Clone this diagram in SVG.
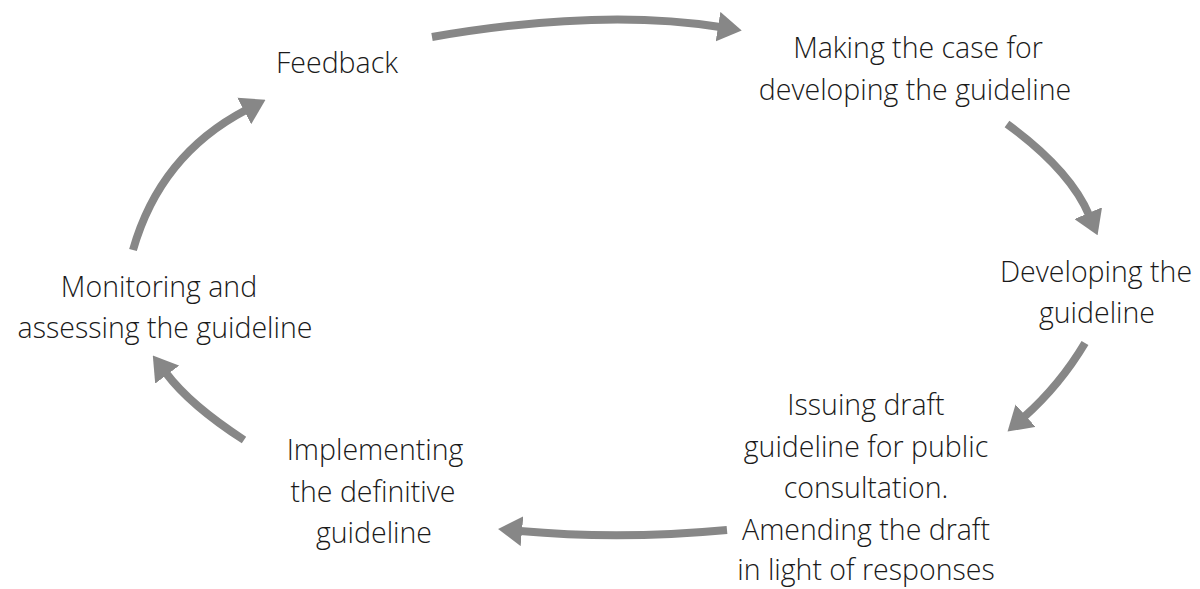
<svg xmlns="http://www.w3.org/2000/svg" width="1200" height="589" viewBox="0 0 1200 589">
<style>
text{font-family:"Open Sans","Noto Sans","Liberation Sans",sans-serif;font-weight:300;font-size:28.5px;fill:#1a1a1a;text-anchor:middle}
.c{fill:none;stroke:#878787;stroke-width:8;marker-end:url(#ah)}
</style>
<defs>
<marker id="ah" markerUnits="userSpaceOnUse" viewBox="0 0 24 30" refX="2" refY="15" markerWidth="24" markerHeight="30" orient="auto">
<path d="M0,0 L24,15 L0,30 z" fill="#878787"/>
</marker>
</defs>
<rect width="1200" height="589" fill="#fff"/>
<g id="connectors">
<path class="c" d="M432,37 Q600,8 720,27"/>
<path class="c" d="M1007,124 Q1070,170 1089,215"/>
<path class="c" d="M1085,343 Q1060,385 1024,417"/>
<path class="c" d="M727,530 Q620,540 520,531"/>
<path class="c" d="M244,440 Q190,405 166,373"/>
<path class="c" d="M133,250 Q160,155 246,110"/>
</g>
<g id="feedback"><text x="337" y="73">Feedback</text></g>
<g id="making"><text x="918" y="58">Making the case for</text><text x="915" y="100">developing the guideline</text></g>
<g id="developing"><text x="1096" y="282">Developing the</text><text x="1097" y="323">guideline</text></g>
<g id="issuing"><text x="866" y="415">Issuing draft</text><text x="866" y="457">guideline for public</text><text x="866" y="498">consultation.</text><text x="866" y="540">Amending the draft</text><text x="866" y="580">in light of responses</text></g>
<g id="implementing"><text x="375" y="460">Implementing</text><text x="373" y="502">the definitive</text><text x="374" y="543">guideline</text></g>
<g id="monitoring"><text x="159" y="297">Monitoring and</text><text x="165" y="338">assessing the guideline</text></g>
</svg>
